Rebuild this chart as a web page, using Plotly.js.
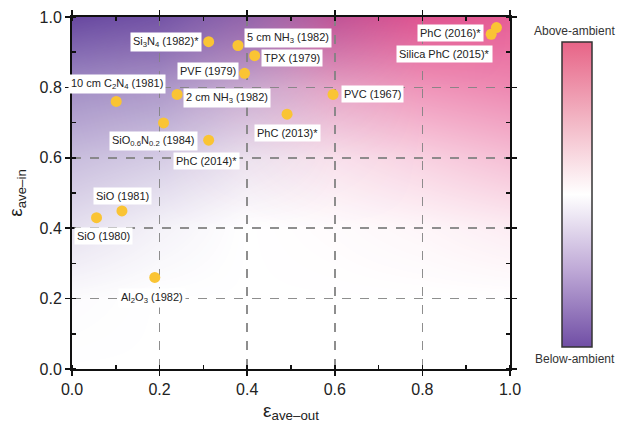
<!DOCTYPE html>
<html>
<head>
<meta charset="utf-8">
<script src="https://cdn.plot.ly/plotly-3.0.1.min.js"></script>
<style>html,body{margin:0;padding:0;background:#fff;}#chart{width:619px;height:435px;}</style>
</head>
<body>
<div id="chart"></div>
<script>
// ---- data ----
var names = ["Si<sub>3</sub>N<sub>4</sub> (1982)*", "5 cm NH<sub>3</sub> (1982)", "TPX (1979)", "PVF (1979)",
  "2 cm NH<sub>3</sub> (1982)", "10 cm C<sub>2</sub>N<sub>4</sub> (1981)", "SiO<sub>0.6</sub>N<sub>0.2</sub> (1984)",
  "PhC (2014)*", "PhC (2013)*", "PVC (1967)", "PhC (2016)*", "Silica PhC (2015)*",
  "SiO (1981)", "SiO (1980)", "Al<sub>2</sub>O<sub>3</sub> (1982)"];
var epsOut = [0.312, 0.379, 0.417, 0.394, 0.240, 0.101, 0.209, 0.312, 0.491, 0.596, 0.969, 0.957, 0.114, 0.056, 0.189];
var epsIn  = [0.930, 0.919, 0.890, 0.840, 0.780, 0.760, 0.699, 0.650, 0.724, 0.780, 0.970, 0.951, 0.449, 0.430, 0.260];
var tickVals = [0, 0.2, 0.4, 0.6, 0.8, 1.0];
var tickText = ["0.0", "0.2", "0.4", "0.6", "0.8", "1.0"];

// background shading grid (estimated intensities)
var bgX = [0, 0.2, 0.4, 0.6, 0.8, 1.0];
var bgY = [0, 0.2, 0.4, 0.6, 0.8, 1.0];
var purpleLevel = [
  [0.00, 0.00, 0.00, 0.00, 0.00, 0.00],
  [0.02, 0.00, 0.00, 0.00, 0.00, 0.00],
  [0.17, 0.07, 0.00, 0.00, 0.00, 0.00],
  [0.36, 0.28, 0.12, 0.02, 0.00, 0.00],
  [0.62, 0.55, 0.34, 0.10, 0.00, 0.00],
  [1.00, 0.92, 0.68, 0.30, 0.05, 0.00]
];
var pinkLevel = [
  [0.00, 0.00, 0.00, 0.00, 0.00, 0.00],
  [0.00, 0.00, 0.00, 0.00, 0.00, 0.00],
  [0.00, 0.00, 0.00, 0.02, 0.05, 0.10],
  [0.00, 0.00, 0.05, 0.15, 0.25, 0.35],
  [0.00, 0.05, 0.20, 0.45, 0.58, 0.65],
  [0.00, 0.20, 0.50, 0.90, 0.92, 0.88]
];

// ---- label placement (styling, pixels) ----
var labAnchor = ["right","left","left","right","left","center","center","center","center","left","right","right","center","center","center"];
var labDx = [-7, 6, 6, -6, 6, 1, -10, -2, 0, 8, -12, 2, 1, 7, -3];
var labDy = [0, 8, -2, 2, -4, 17, -18, -21, -19, 0, -5, -20, 15, -18, -21];

var FONT = "Liberation Sans, Arial, Helvetica, sans-serif";

var traces = [
  {type: "heatmap", x: bgX, y: bgY, z: pinkLevel, xaxis: "x", yaxis: "y", zsmooth: "best",
   zmin: 0, zmax: 1, showscale: false, hoverinfo: "skip",
   colorscale: [[0, "rgba(228,72,135,0)"], [1, "rgba(228,72,135,1)"]]},
  {type: "heatmap", x: bgX, y: bgY, z: purpleLevel, xaxis: "x", yaxis: "y", zsmooth: "best",
   zmin: 0, zmax: 1, showscale: false, hoverinfo: "skip",
   colorscale: [[0, "rgba(104,72,160,0)"], [1, "rgba(104,72,160,1)"]]},
  {type: "scatter", mode: "markers", x: epsOut, y: epsIn, xaxis: "x2", yaxis: "y2",
   marker: {size: 11, color: "rgb(250,196,52)"}, hoverinfo: "skip", showlegend: false},
  {type: "scatter", mode: "markers", x: [-1, -1], y: [-1, -1], xaxis: "x2", yaxis: "y2", showlegend: false,
   hoverinfo: "skip",
   marker: {size: 1, color: [-1, 1], cmin: -1, cmax: 1, showscale: true,
     colorscale: [[0, "rgb(112,78,165)"], [0.25, "rgb(190,168,214)"], [0.5, "rgb(255,255,255)"],
                  [0.75, "rgb(242,180,195)"], [1, "rgb(231,100,135)"]],
     colorbar: {x: 1.119, xanchor: "left", xpad: 0, ypad: 0, y: 0.928, yanchor: "top",
       len: 0.866, lenmode: "fraction", thickness: 30, outlinecolor: "#333", outlinewidth: 1.5,
       showticklabels: false, ticks: "", tickvals: []}}}
];

var annotations = names.map(function (n, i) {
  return {x: epsOut[i], y: epsIn[i], xref: "x2", yref: "y2", text: n, showarrow: false,
    xanchor: labAnchor[i], yanchor: "middle", xshift: labDx[i], yshift: labDy[i],
    bgcolor: "white", borderpad: 2, font: {family: FONT, size: 11, color: "#222"}};
});
annotations.push({x: 1.148, y: 0.959, xref: "paper", yref: "paper", text: "Above-ambient", showarrow: false,
  font: {family: FONT, size: 12, color: "#333"}, xanchor: "center", yanchor: "middle"});
annotations.push({x: 1.148, y: 0.027, xref: "paper", yref: "paper", text: "Below-ambient", showarrow: false,
  font: {family: FONT, size: 12, color: "#333"}, xanchor: "center", yanchor: "middle"});

var hiddenAx = {range: [0, 1], visible: false, showgrid: false, zeroline: false, fixedrange: true};
var visAx = {
  range: [0, 1], tickvals: tickVals, ticktext: tickText, showline: true, linecolor: "#111", linewidth: 2,
  mirror: "allticks", ticks: "outside", ticklen: 5, tickwidth: 1.5, tickcolor: "#111",
  showgrid: true, gridcolor: "rgba(130,130,130,0.9)", gridwidth: 1.5, griddash: "dash",
  zeroline: false, tickfont: {family: FONT, size: 16, color: "#222"},
  minor: {dtick: 0.1, ticks: "inside", ticklen: 4, tickwidth: 1.5, tickcolor: "#111", showgrid: false}
};

var layout = {
  width: 619, height: 435,
  margin: {l: 72, r: 109, t: 17, b: 66, pad: 0},
  paper_bgcolor: "white", plot_bgcolor: "rgba(0,0,0,0)",
  showlegend: false,
  xaxis: Object.assign({}, hiddenAx),
  yaxis: Object.assign({}, hiddenAx),
  xaxis2: Object.assign({}, visAx, {anchor: "y2",
    title: {text: "ε<sub>ave–out</sub>", font: {family: FONT, size: 19, color: "#222"}, standoff: 6}}),
  yaxis2: Object.assign({}, visAx, {anchor: "x2",
    title: {text: "ε<sub>ave–in</sub>", font: {family: FONT, size: 19, color: "#222"}, standoff: 12}}),
  annotations: annotations
};

Plotly.newPlot("chart", traces, layout, {staticPlot: true, displayModeBar: false});
</script>
</body>
</html>
